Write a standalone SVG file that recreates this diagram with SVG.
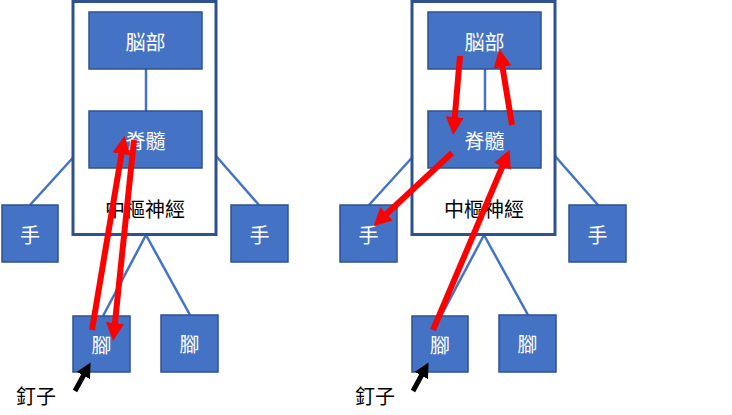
<svg xmlns="http://www.w3.org/2000/svg" width="732" height="415" viewBox="0 0 732 415">
<style>
.box{fill:#4472c4;stroke:#2f528f;stroke-width:1.5}
.outer{fill:#fff;stroke:#2f528f;stroke-width:3}
.ln{stroke:#4472c4;stroke-width:2.5;fill:none}
.t{font-family:"Noto Sans CJK TC","Noto Sans CJK SC",sans-serif;font-size:20px;fill:#fff;text-anchor:middle;dominant-baseline:central}
.k{font-family:"Noto Sans CJK TC","Noto Sans CJK SC",sans-serif;font-size:20px;fill:#000}
.red{stroke:#ff0000;stroke-width:6;fill:none;marker-end:url(#rh)}
.blk{stroke:#000;stroke-width:5;fill:none;marker-end:url(#bh)}
</style>
<defs>
<marker id="rh" markerWidth="3" markerHeight="3" refX="1.5" refY="1.5" orient="auto" markerUnits="strokeWidth"><path d="M0,0L3,1.5L0,3z" fill="#ff0000"/></marker>
<marker id="bh" markerWidth="3" markerHeight="3" refX="1.5" refY="1.5" orient="auto" markerUnits="strokeWidth"><path d="M0,0L3,1.5L0,3z" fill="#000"/></marker>
</defs>
<g id="left">
<g id="connectors-l">
<line class="ln" x1="89" y1="140" x2="30" y2="205"/>
<line class="ln" x1="202" y1="140" x2="259" y2="205"/>
<line class="ln" x1="146" y1="235" x2="103" y2="316"/>
<line class="ln" x1="146" y1="235" x2="190" y2="315"/>
</g>
<g id="cns-l"><rect class="outer" x="73" y="1.5" width="143" height="233"/><text class="k" x="145" y="208" text-anchor="middle" dominant-baseline="central">中樞神經</text></g>
<line class="ln" x1="146" y1="69" x2="146" y2="111"/>
<g id="brain-l"><rect class="box" x="89" y="12" width="113" height="57"/><text class="t" x="145.5" y="41">脳部</text></g>
<g id="spine-l"><rect class="box" x="89" y="111" width="113" height="57"/><text class="t" x="145.5" y="140">脊髓</text></g>
<g id="hand-l1"><rect class="box" x="2" y="205" width="56" height="57"/><text class="t" x="30" y="234">手</text></g>
<g id="hand-l2"><rect class="box" x="231" y="205" width="57" height="57"/><text class="t" x="259.5" y="234">手</text></g>
<g id="foot-l1"><rect class="box" x="73" y="316" width="57" height="56"/><text class="t" x="101.5" y="344">腳</text></g>
<g id="foot-l2"><rect class="box" x="161" y="315" width="57" height="57"/><text class="t" x="189.5" y="343">腳</text></g>
<g id="arrows-l">
<line class="red" x1="92" y1="330" x2="123" y2="145"/>
<line class="red" x1="134" y1="140" x2="114" y2="332"/>
<line class="blk" x1="75" y1="391" x2="87" y2="369"/>
</g>
<text class="k" x="16" y="395" dominant-baseline="central">釘子</text>
</g>
<g id="right">
<g id="connectors-r">
<line class="ln" x1="428" y1="140" x2="369" y2="205"/>
<line class="ln" x1="541" y1="140" x2="598" y2="205"/>
<line class="ln" x1="484" y1="235" x2="441" y2="316"/>
<line class="ln" x1="484" y1="235" x2="528" y2="315"/>
</g>
<g id="cns-r"><rect class="outer" x="412" y="1.5" width="143" height="233"/><text class="k" x="484" y="208" text-anchor="middle" dominant-baseline="central">中樞神經</text></g>
<line class="ln" x1="485" y1="69" x2="485" y2="111"/>
<g id="brain-r"><rect class="box" x="428" y="12" width="113" height="57"/><text class="t" x="484.5" y="41">脳部</text></g>
<g id="spine-r"><rect class="box" x="428" y="111" width="113" height="57"/><text class="t" x="484.5" y="140">脊髓</text></g>
<g id="hand-r1"><rect class="box" x="340" y="205" width="57" height="57"/><text class="t" x="368.5" y="234">手</text></g>
<g id="hand-r2"><rect class="box" x="569" y="205" width="57" height="57"/><text class="t" x="597.5" y="234">手</text></g>
<g id="foot-r1"><rect class="box" x="412" y="316" width="56" height="56"/><text class="t" x="440" y="344">腳</text></g>
<g id="foot-r2"><rect class="box" x="499" y="315" width="57" height="57"/><text class="t" x="527.5" y="343">腳</text></g>
<g id="arrows-r">
<line class="red" x1="460" y1="56" x2="454" y2="126"/>
<line class="red" x1="512" y1="125" x2="501" y2="58"/>
<line class="red" x1="452" y1="153" x2="380" y2="220"/>
<line class="red" x1="433" y1="330" x2="506" y2="158"/>
<line class="blk" x1="413" y1="391" x2="425" y2="369"/>
</g>
<text class="k" x="355" y="395" dominant-baseline="central">釘子</text>
</g>
</svg>
